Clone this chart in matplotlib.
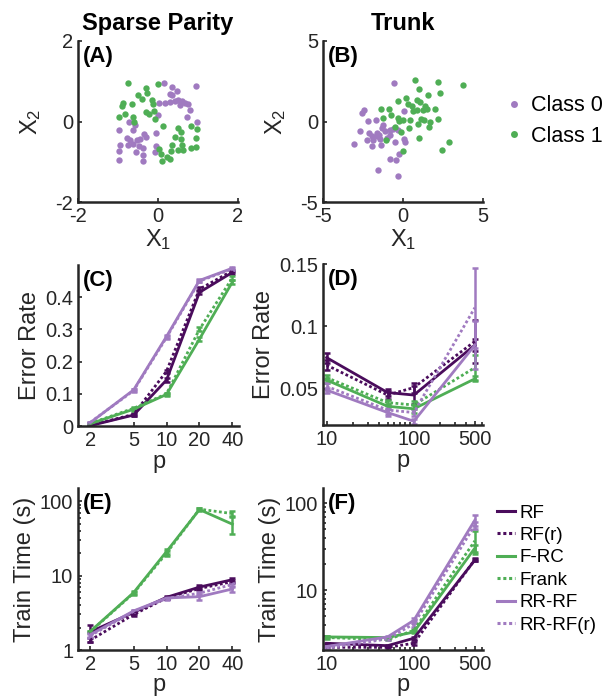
import matplotlib
matplotlib.use('Agg')
import matplotlib.pyplot as plt
from matplotlib.lines import Line2D
from matplotlib.ticker import FixedLocator, LogLocator, NullFormatter, NullLocator

plt.rcParams['font.family'] = ['Liberation Sans', 'DejaVu Sans']
plt.rcParams['mathtext.fontset'] = 'custom'
plt.rcParams['mathtext.rm'] = 'Liberation Sans'
plt.rcParams['mathtext.it'] = 'Liberation Sans:italic'
plt.rcParams['axes.unicode_minus'] = False

DARK = '#4a0c5c'
GREEN = '#4fae55'
LIGHT = '#a07ac0'
AXC = '#262626'

# ---- (A) sparse parity samples ----
sp_x0 = [0.16, 0.34, 0.47, 0.95, 0.30, 0.36, 0.03, 0.18, 0.30, 0.43, 0.51, 0.59, 0.68, 0.76,
         0.55, 0.80, 0.73, 0.01, 0.98, -0.72, -0.58, -0.62, -0.98, -0.34, -0.31, -0.06, -0.78,
         -0.70, -0.52, -0.45, -0.62, -0.74, -0.47, -0.37, -0.95, -0.97, -0.56, -0.37, -0.06,
         -0.08, -0.38, -0.98]
sp_y0 = [0.96, 0.86, 0.77, 0.88, 0.69, 0.65, 0.47, 0.47, 0.48, 0.50, 0.53, 0.50, 0.47, 0.44,
         0.40, 0.28, 0.11, 0.15, 0.00, -0.01, -0.08, -0.22, -0.22, -0.30, -0.39, -0.28, -0.41,
         -0.47, -0.47, -0.43, -0.55, -0.59, -0.61, -0.66, -0.58, -0.74, -0.76, -0.84, -0.61,
         -0.77, -0.99, -0.96]
sp_x1 = [-0.74, -0.31, -0.28, -0.01, -0.51, -0.39, -0.16, -0.12, -0.87, -0.90, -0.66, -0.31,
         -0.22, -0.09, -0.08, -0.97, -0.83, -0.63, -0.60, 0.13, 0.51, 0.57, 0.83, 0.98, 0.43,
         0.58, 0.95, 0.59, 0.36, 0.49, 0.32, 0.03, 0.08, 0.23, 0.30, 0.11, 0.83, 0.95, 0.63]
sp_y1 = [0.96, 0.84, 0.72, 0.94, 0.65, 0.57, 0.53, 0.43, 0.47, 0.39, 0.44, 0.24, 0.18, 0.25,
         0.07, 0.10, 0.19, 0.11, -0.01, -0.12, -0.16, -0.26, -0.12, -0.19, -0.39, -0.43, -0.41,
         -0.58, -0.58, -0.72, -0.74, -0.69, -0.80, -0.88, -0.94, -0.99, -0.66, -0.64, -0.72]

# ---- (B) trunk samples ----
tr_x0 = [-0.54, -2.44, -2.56, 0.08, -2.21, -1.69, -2.69, -1.23, -1.31, -1.13, -0.81, -0.60,
         -0.33, -2.10, -1.96, -1.65, -2.27, -1.85, -1.44, -1.02, -0.81, 0.06, 0.15, -0.50,
         -1.38, -1.96, -3.06, -0.23, -0.81, -0.44, -1.54, -0.29, -1.65, -1.48]
tr_y0 = [2.41, 0.73, 0.53, 0.63, 0.05, 0.11, -0.61, -0.20, -0.40, -0.61, -0.51, -0.45, -0.51,
         -0.71, -0.92, -0.92, -1.13, -1.13, -1.07, -1.02, -0.82, -1.07, -1.27, -1.27, -1.44,
         -1.50, -1.40, -2.02, -2.31, -2.37, -2.99, -3.41, -0.71, -0.82]
tr_x1 = [0.77, 2.21, 3.73, 1.02, 2.31, 1.58, 0.19, -0.33, 0.33, 0.54, 0.85, 1.06, 1.38, 0.90,
         0.65, 1.23, 1.52, 2.00, -1.38, -0.88, -1.27, -0.75, -0.29, 0.02, 0.44, -0.23, 1.13,
         1.31, 1.69, 2.17, 1.65, 0.92, 0.40, -0.50, -0.13, -1.08, 1.00, 2.90, 2.46, -0.02]
tr_y1 = [2.60, 2.45, 2.25, 2.04, 1.79, 1.63, 1.46, 1.25, 1.11, 0.98, 1.36, 1.19, 0.94, 0.73,
         0.63, 0.73, 0.80, 0.78, 0.80, 0.80, 0.22, 0.38, 0.22, 0.07, 0.11, 0.01, 0.18, 0.07,
         -0.03, 0.16, -0.36, -0.16, -0.40, -0.36, -0.67, -1.13, -1.02, -1.25, -1.75, -1.85]

# ---- benchmark results ----
methods = ['RF', 'RF(r)', 'F-RC', 'Frank', 'RR-RF', 'RR-RF(r)']
colors = [DARK, DARK, GREEN, GREEN, LIGHT, LIGHT]
solid = [True, False, True, False, True, False]

p_sparse = [2, 5, 10, 20, 40]
p_trunk = [10, 50, 100, 500]

sparse_err = [[0.001, 0.034, 0.143, 0.415, 0.477],
              [0.002, 0.036, 0.170, 0.425, 0.482],
              [0.007, 0.052, 0.098, 0.270, 0.447],
              [0.008, 0.055, 0.100, 0.300, 0.460],
              [0.010, 0.112, 0.278, 0.452, 0.490],
              [0.011, 0.110, 0.275, 0.450, 0.488]]
sparse_err_sd = [[0.001, 0.004, 0.005, 0.006, 0.004],
                 [0.001, 0.004, 0.005, 0.006, 0.004],
                 [0.001, 0.004, 0.004, 0.006, 0.006],
                 [0.001, 0.004, 0.004, 0.006, 0.006],
                 [0.002, 0.004, 0.004, 0.004, 0.004],
                 [0.002, 0.004, 0.004, 0.004, 0.004]]

trunk_err = [[0.075, 0.047, 0.045, 0.085],
             [0.069, 0.045, 0.051, 0.088],
             [0.057, 0.036, 0.034, 0.058],
             [0.059, 0.039, 0.037, 0.067],
             [0.049, 0.031, 0.024, 0.085],
             [0.052, 0.033, 0.031, 0.115]]
trunk_err_sd = [[0.004, 0.003, 0.007, 0.005],
                [0.004, 0.003, 0.004, 0.017],
                [0.002, 0.002, 0.003, 0.002],
                [0.002, 0.002, 0.003, 0.010],
                [0.002, 0.003, 0.002, 0.019],
                [0.003, 0.003, 0.003, 0.032]]

sparse_time = [[1.75, 3.2, 5.1, 7.0, 8.8],
               [1.35, 3.0, 5.0, 6.7, 8.3],
               [1.77, 5.9, 21.0, 77.0, 49.0],
               [1.75, 5.8, 20.0, 78.0, 68.0],
               [1.60, 3.35, 5.0, 5.2, 6.6],
               [1.55, 3.3, 4.9, 5.8, 7.6]]
sparse_time_sd = [[0.45, 0.15, 0.2, 0.4, 0.6],
                  [0.08, 0.1, 0.2, 0.3, 0.4],
                  [0.05, 0.3, 1.5, 3.0, 13.0],
                  [0.05, 0.3, 1.5, 3.0, 5.0],
                  [0.1, 0.1, 0.15, 0.5, 0.5],
                  [0.1, 0.1, 0.15, 0.3, 0.4]]

trunk_time = [[2.45, 2.3, 2.8, 22.2],
              [2.2, 2.2, 2.45, 22.5],
              [2.9, 2.85, 3.3, 30.5],
              [2.85, 2.7, 3.45, 37.0],
              [2.25, 2.9, 4.5, 64.0],
              [2.15, 2.75, 4.1, 56.0]]
trunk_time_sd = [[0.05, 0.05, 0.1, 0.8],
                 [0.05, 0.05, 0.1, 0.8],
                 [0.1, 0.05, 0.1, 3.0],
                 [0.1, 0.05, 0.1, 11.0],
                 [0.05, 0.1, 0.3, 9.0],
                 [0.05, 0.1, 0.3, 5.0]]

fig = plt.figure(figsize=(6.05, 7.0), dpi=100)
W, H = 605.0, 700.0


def make_ax(x0, y0, x1, y1):
    ax = fig.add_axes([x0 / W, 1 - y1 / H, (x1 - x0) / W, (y1 - y0) / H])
    for s in ['top', 'right']:
        ax.spines[s].set_visible(False)
    for s in ['left', 'bottom']:
        ax.spines[s].set_linewidth(1.8)
        ax.spines[s].set_color(AXC)
    ax.tick_params(which='both', direction='in', colors=AXC, labelsize=14.5, width=1.2)
    ax.tick_params(which='major', length=3)
    ax.tick_params(which='minor', length=2)
    ax.patch.set_alpha(0)
    return ax


def panel_label(ax, s):
    ax.text(0.03, 0.97, s, transform=ax.transAxes, ha='left', va='top',
            fontsize=16, fontweight='bold', color='black')


# scatter panels
axA = make_ax(78, 41, 238, 202)
axA.scatter(sp_x0, sp_y0, s=21, color=LIGHT, linewidths=0)
axA.scatter(sp_x1, sp_y1, s=21, color=GREEN, linewidths=0)
axA.set_xlim(-2, 2)
axA.set_ylim(-2, 2)
axA.set_xticks([-2, 0, 2])
axA.set_yticks([-2, 0, 2])
axA.set_title('Sparse Parity', fontsize=17, fontweight='bold', pad=8)
axA.set_xlabel(r'X$_1$', fontsize=17, color=AXC, labelpad=1)
axA.set_ylabel(r'X$_2$', fontsize=17, color=AXC, labelpad=9)
panel_label(axA, '(A)')

axB = make_ax(323, 41, 483, 202)
axB.scatter(tr_x0, tr_y0, s=21, color=LIGHT, linewidths=0)
axB.scatter(tr_x1, tr_y1, s=21, color=GREEN, linewidths=0)
axB.set_xlim(-5, 5)
axB.set_ylim(-5, 5)
axB.set_xticks([-5, 0, 5])
axB.set_yticks([-5, 0, 5])
axB.set_title('Trunk', fontsize=17, fontweight='bold', pad=8)
axB.set_xlabel(r'X$_1$', fontsize=17, color=AXC, labelpad=1)
axB.set_ylabel(r'X$_2$', fontsize=17, color=AXC, labelpad=9)
panel_label(axB, '(B)')

cls_handles = [Line2D([], [], ls='none', marker='o', ms=5, color=LIGHT, mec='none'),
               Line2D([], [], ls='none', marker='o', ms=5, color=GREEN, mec='none')]
fig.legend(cls_handles, ['Class 0', 'Class 1'], loc='center left',
           bbox_to_anchor=(502 / W, 1 - 121 / H), frameon=False, fontsize=15.5,
           handlelength=1.1, handletextpad=0.25, labelspacing=0.45, borderpad=0,
           borderaxespad=0)


def draw_lines(ax, xs, means, sds):
    for m, sd, c, sol in zip(means, sds, colors, solid):
        ls = '-' if sol else (0, (1, 0.9))
        ax.errorbar(xs, m, yerr=sd, color=c, lw=2.0, ls=ls, capsize=2.5, capthick=1.8,
                    elinewidth=1.8)


axC = make_ax(78, 265, 239, 426)
draw_lines(axC, p_sparse, sparse_err, sparse_err_sd)
axC.set_xscale('log')
axC.set_xlim(1.55, 46)
axC.xaxis.set_major_locator(FixedLocator(p_sparse))
axC.xaxis.set_major_formatter(plt.FixedFormatter([str(v) for v in p_sparse]))
axC.xaxis.set_minor_locator(NullLocator())
axC.set_ylim(0, 0.5)
axC.set_yticks([0, 0.1, 0.2, 0.3, 0.4])
axC.set_yticklabels(['0', '0.1', '0.2', '0.3', '0.4'])
axC.set_xlabel('p', fontsize=17, color=AXC, labelpad=1)
axC.set_ylabel('Error Rate', fontsize=17, color=AXC, labelpad=3)
panel_label(axC, '(C)')

axD = make_ax(323, 264, 483, 425)
draw_lines(axD, p_trunk, trunk_err, trunk_err_sd)
axD.set_xscale('log')
axD.set_xlim(9.1, 620)
axD.xaxis.set_major_locator(FixedLocator([10, 100, 500]))
axD.xaxis.set_major_formatter(plt.FixedFormatter(['10', '100', '500']))
axD.xaxis.set_minor_locator(LogLocator(subs=range(2, 10)))
axD.xaxis.set_minor_formatter(NullFormatter())
axD.set_ylim(0.021, 0.15)
axD.set_yticks([0.05, 0.1, 0.15])
axD.set_yticklabels(['0.05', '0.1', '0.15'])
axD.set_xlabel('p', fontsize=17, color=AXC, labelpad=1)
axD.set_ylabel('Error Rate', fontsize=17, color=AXC, labelpad=3)
panel_label(axD, '(D)')

axE = make_ax(78, 488, 239, 650)
draw_lines(axE, p_sparse, sparse_time, sparse_time_sd)
axE.set_xscale('log')
axE.set_yscale('log')
axE.set_xlim(1.55, 46)
axE.xaxis.set_major_locator(FixedLocator(p_sparse))
axE.xaxis.set_major_formatter(plt.FixedFormatter([str(v) for v in p_sparse]))
axE.xaxis.set_minor_locator(NullLocator())
axE.set_ylim(1, 150)
axE.yaxis.set_major_locator(FixedLocator([1, 10, 100]))
axE.yaxis.set_major_formatter(plt.FixedFormatter(['1', '10', '100']))
axE.yaxis.set_minor_locator(LogLocator(subs=range(2, 10)))
axE.yaxis.set_minor_formatter(NullFormatter())
axE.set_xlabel('p', fontsize=17, color=AXC, labelpad=0)
axE.set_ylabel('Train Time (s)', fontsize=17, color=AXC, labelpad=3)
panel_label(axE, '(E)')

axF = make_ax(323, 488, 483, 650)
draw_lines(axF, p_trunk, trunk_time, trunk_time_sd)
axF.set_xscale('log')
axF.set_yscale('log')
axF.set_xlim(9.1, 620)
axF.xaxis.set_major_locator(FixedLocator([10, 100, 500]))
axF.xaxis.set_major_formatter(plt.FixedFormatter(['10', '100', '500']))
axF.xaxis.set_minor_locator(LogLocator(subs=range(2, 10)))
axF.xaxis.set_minor_formatter(NullFormatter())
axF.set_ylim(2.05, 150)
axF.yaxis.set_major_locator(FixedLocator([10, 100]))
axF.yaxis.set_major_formatter(plt.FixedFormatter(['10', '100']))
axF.yaxis.set_minor_locator(LogLocator(subs=range(2, 10)))
axF.yaxis.set_minor_formatter(NullFormatter())
axF.set_xlabel('p', fontsize=17, color=AXC, labelpad=0)
axF.set_ylabel('Train Time (s)', fontsize=17, color=AXC, labelpad=3)
panel_label(axF, '(F)')

m_handles = [Line2D([], [], color=c, lw=2.2, ls='-' if sol else (0, (1, 0.9)))
             for c, sol in zip(colors, solid)]
fig.legend(m_handles, methods, loc='center left', bbox_to_anchor=(497 / W, 1 - 569 / H),
           frameon=False, fontsize=13.5, handlelength=0.95, handletextpad=0.25,
           labelspacing=0.28, borderpad=0, borderaxespad=0)

fig.savefig('out.png', dpi=100)
